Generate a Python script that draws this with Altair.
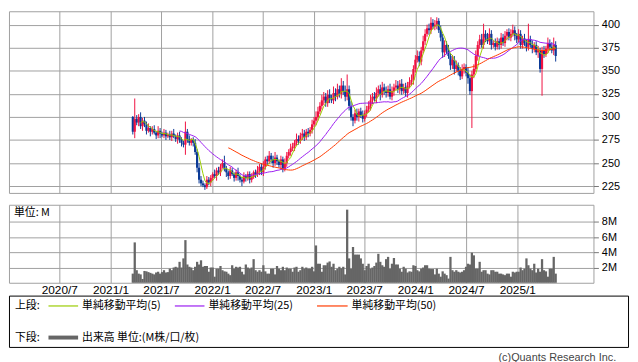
import altair as alt
import pandas as pd

# ---------------- data (weekly candles) ----------------
START_WEEK = "2021-03-22"
FIRST_OPEN = 300

CLOSE = [
    284, 298, 294, 300, 290, 296, 292, 285, 288, 284,
    287, 283, 280, 285, 282, 280, 283, 279, 281, 278,
    282, 279, 276, 280, 275, 272, 270, 284, 276, 272,
    275, 272, 262, 245, 232, 228, 226, 224, 232, 229,
    234, 238, 236, 242, 240, 246, 250, 244, 240, 236,
    242, 238, 234, 240, 236, 232, 230, 236, 234, 238,
    232, 235, 240, 238, 242, 246, 240, 246, 254, 252,
    258, 254, 250, 256, 252, 248, 254, 244, 250, 258,
    262, 266, 268, 272, 276, 274, 280, 282, 278, 284,
    282, 286, 292, 296, 300, 306, 312, 318, 322, 315,
    324, 320, 318, 326, 322, 330, 325, 334, 328, 322,
    330, 312, 300, 296, 304, 300, 306, 302, 298, 304,
    308, 312, 318, 322, 320, 326, 330, 324, 332, 328,
    326, 330, 322, 328, 332, 334, 330, 336, 328, 332,
    326, 334, 338, 340, 352, 362, 366, 360, 372, 382,
    390, 396, 394, 402, 398, 400, 404, 394, 386, 370,
    378, 372, 366, 356, 362, 352, 356, 350, 344, 352,
    354, 348, 342, 328, 346, 352, 366, 378, 384, 378,
    390, 386, 382, 390, 378, 380, 376, 382, 378, 386,
    380, 388, 392, 386, 390, 394, 388, 384, 390, 378,
    385, 380, 376, 384, 378, 374, 378, 370, 372, 352,
    372, 368, 374, 380, 376, 372, 378, 366,
]

UP_WICK = [
    1, 22, 4, 3, 5, 3, 4, 3, 5, 2,
    3, 4, 2, 5, 3, 2, 4, 3, 2, 4,
    3, 5, 2, 3, 4, 3, 2, 11, 3, 4,
    2, 3, 4, 3, 5, 4, 3, 2, 4, 3,
    3, 2, 5, 3, 4, 3, 4, 8, 3, 2,
    4, 3, 2, 3, 5, 2, 3, 4, 2, 3,
    3, 4, 2, 3, 5, 3, 4, 6, 3, 4,
    5, 3, 4, 6, 3, 2, 4, 3, 5, 4,
    3, 5, 4, 3, 6, 4, 3, 5, 4, 3,
    4, 3, 5, 4, 6, 5, 4, 6, 5, 4,
    5, 6, 4, 7, 5, 6, 4, 8, 5, 6,
    16, 4, 5, 3, 4, 5, 3, 4, 5, 3,
    4, 5, 6, 4, 5, 6, 4, 5, 6, 4,
    5, 4, 6, 5, 4, 6, 5, 4, 5, 4,
    5, 4, 5, 6, 4, 5, 6, 5, 4, 6,
    5, 4, 5, 6, 4, 5, 4, 3, 5, 4,
    5, 4, 6, 3, 5, 4, 5, 3, 4, 5,
    4, 3, 5, 4, 4, 5, 6, 4, 5, 6,
    11, 4, 5, 6, 4, 3, 5, 4, 3, 5,
    4, 5, 3, 4, 5, 6, 4, 3, 5, 4,
    3, 5, 4, 17, 4, 5, 3, 4, 5, 3,
    4, 5, 3, 6, 4, 5, 8, 4,
]

DN_WICK = [
    3, 7, 3, 4, 3, 5, 3, 4, 2, 5,
    3, 2, 4, 3, 5, 2, 3, 4, 2, 3,
    4, 2, 3, 5, 3, 4, 3, 11, 4, 3,
    3, 4, 3, 5, 4, 3, 2, 3, 2, 3,
    4, 3, 2, 5, 3, 4, 2, 3, 5, 4,
    3, 2, 4, 3, 5, 3, 5, 2, 4, 3,
    4, 3, 2, 4, 3, 5, 3, 4, 3, 4,
    3, 4, 5, 3, 4, 3, 5, 4, 3, 4,
    3, 4, 3, 5, 3, 4, 3, 5, 4, 3,
    4, 3, 4, 3, 5, 4, 3, 4, 5, 4,
    4, 5, 3, 4, 5, 3, 4, 5, 4, 5,
    4, 5, 4, 6, 3, 4, 5, 3, 4, 3,
    4, 3, 5, 4, 3, 5, 4, 6, 3, 4,
    5, 4, 3, 4, 5, 3, 4, 5, 4, 3,
    4, 5, 3, 4, 5, 4, 3, 5, 4, 3,
    4, 3, 5, 4, 3, 4, 5, 3, 4, 6,
    5, 4, 3, 5, 4, 6, 3, 5, 4, 3,
    5, 4, 6, 4, 40, 4, 3, 5, 4, 3,
    4, 5, 3, 4, 5, 3, 4, 3, 5, 4,
    3, 4, 5, 3, 4, 3, 5, 4, 3, 4,
    4, 3, 5, 4, 3, 5, 4, 3, 6, 4,
    29, 4, 3, 5, 4, 3, 5, 6,
]

VOLUME_M = [
    1.2, 5.3, 1.65, 1.2, 1.1, 0.5, 1.55, 1.5, 1.4, 1.3,
    1.2, 1.1, 1.35, 1.45, 1.2, 1.4, 1.65, 1.35, 1.4, 1.85,
    1.65, 2.0, 2.1, 2.0, 2.75, 2.0, 3.2, 5.6, 2.4, 2.1,
    2.0, 1.65, 2.1, 2.75, 2.4, 2.95, 2.1, 2.2, 2.2, 1.45,
    2.0, 2.0, 0.8, 1.85, 1.85, 2.2, 1.65, 1.5, 1.45, 1.2,
    1.0, 2.3, 1.85, 2.1, 2.0, 2.1, 1.45, 1.1, 2.4, 2.0,
    1.85, 2.0, 3.1, 1.65, 1.45, 1.65, 1.45, 2.3, 1.5, 1.2,
    1.2, 1.85, 1.85, 1.1, 2.2, 1.85, 1.65, 2.1, 1.65, 2.0,
    1.85, 1.85, 1.45, 2.0, 2.1, 1.45, 1.65, 2.1, 1.85, 2.0,
    1.85, 1.85, 2.1, 1.5, 4.9, 2.5, 2.5, 1.45, 2.3, 2.3,
    2.65, 2.8, 2.1, 2.5, 1.65, 1.85, 2.1, 1.9, 2.1, 1.1,
    9.6, 3.2, 1.85, 4.7, 3.7, 3.7, 3.7, 3.2, 2.5, 1.65,
    2.2, 2.5, 1.85, 2.0, 2.2, 2.65, 3.8, 2.75, 2.3, 2.1,
    3.1, 3.4, 1.85, 2.5, 3.25, 2.4, 2.4, 1.85, 1.45, 2.1,
    1.85, 1.35, 1.5, 1.45, 2.3, 2.2, 1.65, 1.5, 1.85, 2.0,
    2.3, 2.3, 1.85, 1.8, 1.8, 1.1, 1.85, 1.2, 0.8, 1.5,
    1.2, 1.0, 0.55, 3.4, 1.65, 1.45, 1.65, 1.45, 1.35, 1.45,
    1.65, 2.1, 2.5, 2.4, 3.95, 3.6, 1.85, 1.85, 2.75, 1.45,
    1.65, 1.65, 1.2, 1.1, 1.65, 1.65, 1.45, 1.45, 1.2, 1.2,
    1.1, 1.0, 1.2, 1.2, 0.8, 1.45, 1.35, 1.45, 1.45, 2.0,
    1.65, 1.85, 3.2, 2.3, 1.85, 1.65, 2.5, 1.35, 1.85, 1.45,
    3.1, 1.65, 1.5, 0.8, 1.85, 1.85, 3.4, 1.2,
]

PRICE_TICKS = [225, 250, 275, 300, 325, 350, 375, 400]
VOLUME_TICKS = [2, 4, 6, 8]
HALF_YEARS = [(2020, 7), (2021, 1), (2021, 7), (2022, 1), (2022, 7),
              (2023, 1), (2023, 7), (2024, 1), (2024, 7), (2025, 1)]
MA_WINDOWS = [5, 25, 50]
MA_LABELS = ["単純移動平均(5)", "単純移動平均(25)", "単純移動平均(50)"]
UPPER_LABEL = "上段:"
LOWER_LABEL = "下段:"
VOLUME_LABEL = "出来高 単位:(M株/口/枚)"
UNIT_LABEL = "単位: M"
COPYRIGHT = "(c)Quants Research Inc."

# ---------------- table ----------------
n = len(CLOSE)
opens = [FIRST_OPEN] + CLOSE[:-1]
df = pd.DataFrame({
    "date": pd.date_range(START_WEEK, periods=n, freq="7D").strftime("%Y-%m-%d"),
    "open": opens,
    "close": CLOSE,
    "volume": VOLUME_M,
})
df["high"] = [max(o, c) + u for o, c, u in zip(opens, CLOSE, UP_WICK)]
df["low"] = [min(o, c) - d for o, c, d in zip(opens, CLOSE, DN_WICK)]
df["dir"] = ["up" if c >= o else "down" for o, c in zip(opens, CLOSE)]
for w in MA_WINDOWS:
    df[f"ma{w}"] = df["close"].rolling(w).mean()

# ---------------- styles ----------------
RED = "#f01040"
BLUE = "#0b3a96"
MA_COLORS = ["#99cc00", "#9a1cf0", "#ff3a00"]
VOL_COLOR = "#666666"
GRID = "#a0a0a0"
W = 592
H_UP = 184
H_LO = 79
JP = "Noto Sans CJK JP"

x_scale = alt.Scale(domain=[alt.DateTime(year=2020, month=1, date=20),
                            alt.DateTime(year=2025, month=9, date=14)])
tick_dates = [alt.DateTime(year=y, month=m, date=1) for y, m in HALF_YEARS]

x_upper = alt.X("date:T", scale=x_scale,
                axis=alt.Axis(values=tick_dates, grid=True, labels=False, ticks=False,
                              domain=False, title=None))
x_lower = alt.X("date:T", scale=x_scale,
                axis=alt.Axis(values=tick_dates, grid=True, ticks=False, domain=False,
                              title=None, format="%Y/%-m", labelFontSize=12,
                              labelPadding=2, labelOverlap=False, labelFlush=False))

y_price_axis = alt.Axis(orient="right", values=PRICE_TICKS, grid=True, title=None,
                        domain=False, tickSize=5, labelFontSize=11, labelPadding=3)
y_price_scale = alt.Scale(domain=[217.7, 414.5], nice=False, zero=False)
dir_color = alt.Color("dir:N", scale=alt.Scale(domain=["up", "down"], range=[RED, BLUE]),
                      legend=None)

base = alt.Chart(df).encode(x=x_upper)
wicks = base.mark_rule(strokeWidth=1).encode(
    y=alt.Y("low:Q", scale=y_price_scale, axis=y_price_axis),
    y2="high:Q",
    color=dir_color,
)
bodies = base.mark_bar(size=2.2).encode(
    y=alt.Y("open:Q", scale=y_price_scale, axis=y_price_axis),
    y2="close:Q",
    color=dir_color,
)
ma_layers = [
    base.mark_line(strokeWidth=1, color=col).encode(
        y=alt.Y(f"ma{w}:Q", scale=y_price_scale, axis=y_price_axis))
    for w, col in zip(MA_WINDOWS, MA_COLORS)
]
upper = alt.layer(wicks, bodies, *ma_layers).properties(width=W, height=H_UP)

# ---------------- lower panel: volume + legend box ----------------
one = pd.DataFrame({"k": [0]})

vol_bars = alt.Chart(df).mark_bar(size=2.3, color=VOL_COLOR).encode(
    x=x_lower,
    y=alt.Y("volume:Q", scale=alt.Scale(domain=[0, 10.24], nice=False),
            axis=alt.Axis(orient="right", values=VOLUME_TICKS, grid=True, title=None,
                          domain=False, tickSize=5, labelFontSize=11, labelPadding=3,
                          labelExpr="datum.value + 'M'")),
)


def txt(s, x, y, size=11, align="left", color="black", font=JP):
    return alt.Chart(one).mark_text(align=align, baseline="middle", fontSize=size,
                                    font=font, color=color).encode(
        x=alt.value(x), y=alt.value(y), text=alt.value(s))


def seg(x1, x2, y, color, width):
    return alt.Chart(one).mark_rule(color=color, strokeWidth=width).encode(
        x=alt.value(x1), x2=alt.value(x2), y=alt.value(y))


unit = txt(UNIT_LABEL, 5, 8)
box = alt.Chart(one).mark_rect(fillOpacity=0, stroke="black", strokeWidth=1).encode(
    x=alt.value(0.5), x2=alt.value(627.5), y=alt.value(92.5), y2=alt.value(144.5))

ROW1, ROW2 = 102.5, 134.5
legend_layers = [
    box,
    txt(UPPER_LABEL, 6, ROW1),
    seg(40, 70, ROW1, MA_COLORS[0], 1.2), txt(MA_LABELS[0], 74, ROW1),
    seg(168, 198, ROW1, MA_COLORS[1], 1.2), txt(MA_LABELS[1], 202, ROW1),
    seg(312, 343, ROW1, MA_COLORS[2], 1.2), txt(MA_LABELS[2], 347, ROW1),
    txt(LOWER_LABEL, 6, ROW2),
    seg(40, 70, ROW2, VOL_COLOR, 4), txt(VOLUME_LABEL, 74, ROW2),
    txt(COPYRIGHT, 615, 155, size=11, align="right", color="#444",
        font="Liberation Sans"),
]

lower = alt.layer(vol_bars, unit, *legend_layers).properties(width=W, height=H_LO)

chart = alt.vconcat(upper, lower, spacing=10).properties(
    padding=0, background="white"
).configure_view(stroke=GRID, strokeWidth=1).configure_axis(
    gridColor=GRID, gridWidth=1, labelFont="Liberation Sans", labelColor="black",
    tickColor="#777777"
)

chart.save("out.html", embed_options={"renderer": "svg", "actions": False})
